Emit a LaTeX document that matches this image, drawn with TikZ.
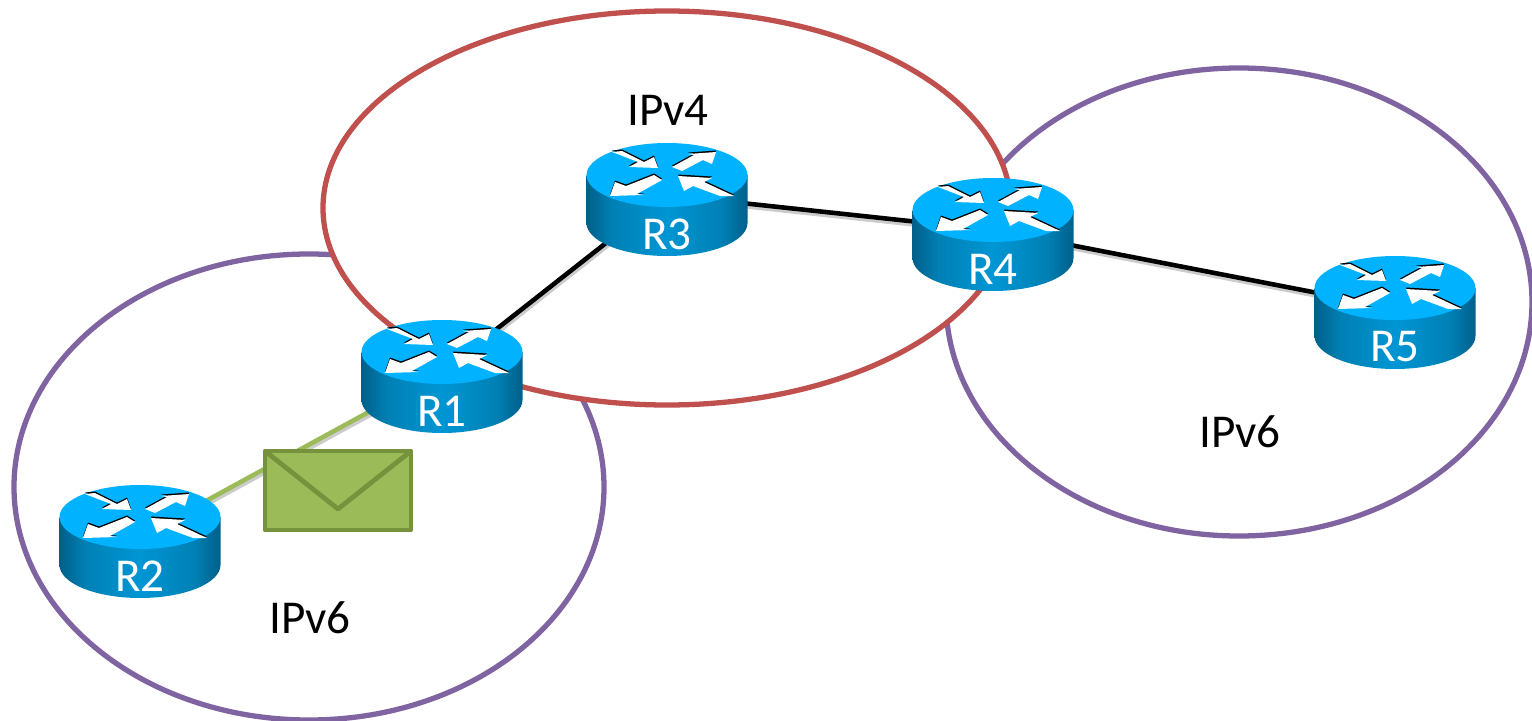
\documentclass[tikz,border=0pt]{standalone}
\usepackage{fontspec}
\setmainfont{Carlito}
\definecolor{cisred}{HTML}{C0504D}
\definecolor{cispurple}{HTML}{8064A2}
\definecolor{cisgreen}{HTML}{9BBB59}
\definecolor{cisedge}{HTML}{76923C}
\definecolor{rtrtop}{HTML}{00B2FF}
\definecolor{rtrdark}{HTML}{005F8A}
\definecolor{rtrsoft}{HTML}{0080B4}
\definecolor{rtrmid}{HTML}{0096D4}
\pgfdeclarehorizontalshading{rtrbody}{100bp}{
	color(0bp)=(rtrdark);
	color(25bp)=(rtrdark);
	color(33bp)=(rtrsoft);
	color(50bp)=(rtrmid);
	color(67bp)=(rtrsoft);
	color(75bp)=(rtrdark);
	color(100bp)=(rtrdark)}
\tikzset{
	zone/.style={line width=1.5pt, fill=white},
	link/.style={line width=1.3pt, line cap=round},
	linkshadow/.style={line width=1.3pt, black!20},
	zonelabel/.style={font=\fontsize{13.4pt}{15pt}\selectfont, text=black},
	rtrlabel/.style={font=\fontsize{13.4pt}{15pt}\selectfont, text=white},
	router/.pic={
		\shade[shading=rtrbody]
		(-80.5,-20) -- (-80.5,28) arc[start angle=180, end angle=0, x radius=80.5, y radius=33] -- (80.5,-20) -- cycle;
		\fill[rtrtop] (0,-20) ellipse [x radius=80.5, y radius=32];
		\foreach \c/\s in {black/-21.5,white/-20}
		\fill[\c]
		(-55,\s-23) -- (-45,\s-24) -- (-23,\s-13) -- (-13,\s-18) -- (-9,\s-7) -- (-38,\s-8) -- (-29,\s-13) -- cycle
		(5,\s-8) -- (27,\s-20) -- (21,\s-21) -- (49,\s-23) -- (45,\s-11) -- (36,\s-15) -- (15,\s-4) -- cycle
		(-57,\s+21) -- (-52,\s+7) -- (-41,\s+11) -- (-13,\s+0) -- (-5,\s+5) -- (-30,\s+19) -- (-23,\s+20) -- cycle
		(11,\s+1) -- (45,\s+3) -- (37,\s+7) -- (67,\s+21) -- (53,\s+21) -- (26,\s+11) -- (17,\s+16) -- cycle
		;
	},
}
\begin{document}
\begin{tikzpicture}[x=0.01cm, y=-0.01cm, line join=round]
	\useasboundingbox (0,0) rectangle (1532,721);
	\path
	(442,372) coordinate (R1)
	(140,537) coordinate (R2)
	(667,195) coordinate (R3)
	(993,230) coordinate (R4)
	(1395,308) coordinate (R5)
	(265,451) coordinate (m1)
	(411,451) coordinate (m2)
	(411,530) coordinate (m3)
	(265,530) coordinate (m4)
	(338,509) coordinate (m5)
	;
	% the zones
	\draw[zone, draw=cispurple] (309,487) ellipse [x radius=295, y radius=233];
	\draw[zone, draw=cispurple] (1239,302) ellipse [x radius=293, y radius=234];
	\draw[zone, draw=cisred] (667,208) ellipse [x radius=344, y radius=197];
	\node[zonelabel] (v4) at (668,110) {IPv4};
	\node[zonelabel] (v6a) at (310,618) {IPv6};
	\node[zonelabel] (v6b) at (1240,432) {IPv6};
	% links
	\foreach \a/\b/\c in {R1/R3/black,R3/R4/black,R4/R5/black,R1/R2/cisgreen}
	{
		\draw[linkshadow] ([shift={(1,3)}]\a) -- ([shift={(1,3)}]\b);
		\draw[link, \c] (\a) -- (\b);
	}
	% routers
	\foreach \x in {R1,R2,R3,R4,R5}
	{
		\pic at (\x) {router};
		\node[rtrlabel] (l\x) at ([shift={(0,39)}]\x) {\x};
	}
	% the packet
	\draw[line width=1.35pt, fill=cisgreen, draw=cisedge]
	(m1)--(m2)--(m3)--(m4)--cycle
	;
	\draw[line width=1.35pt, cisedge]
	(m1)--(m5)--(m2)
	;
\end{tikzpicture}
\end{document}
